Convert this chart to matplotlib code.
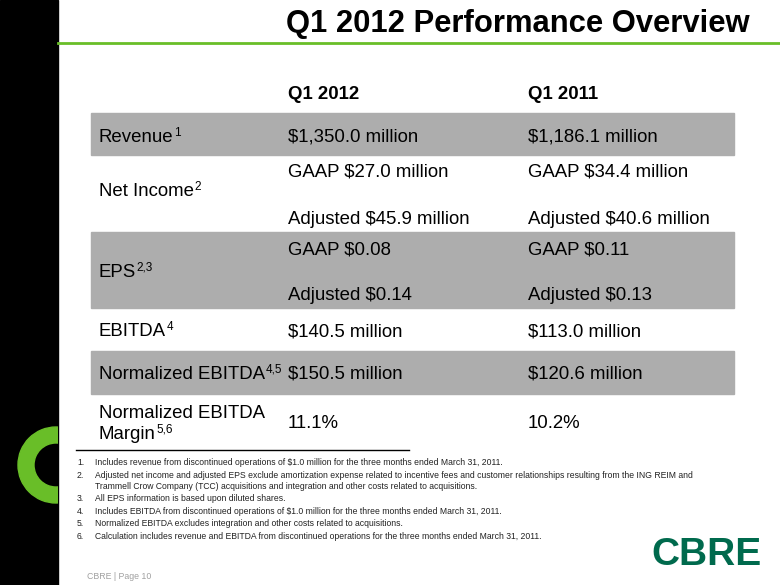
import matplotlib
matplotlib.use("Agg")
import matplotlib.pyplot as plt
from matplotlib.patches import Rectangle, Wedge

plt.rcParams["font.family"] = ["Liberation Sans", "DejaVu Sans"]
plt.rcParams["text.parse_math"] = False

title = "Q1 2012 Performance Overview"
headers = ["Q1 2012", "Q1 2011"]
# each label: list of (text, superscript) lines
row_labels = [
    [("Revenue", "1")],
    [("Net Income", "2")],
    [("EPS", "2,3")],
    [("EBITDA", "4")],
    [("Normalized EBITDA", "4,5")],
    [("Normalized EBITDA", ""), ("Margin", "5,6")],
]
q1_2012 = [
    ["$1,350.0 million"],
    ["GAAP $27.0 million", "Adjusted $45.9 million"],
    ["GAAP $0.08", "Adjusted $0.14"],
    ["$140.5 million"],
    ["$150.5 million"],
    ["11.1%"],
]
q1_2011 = [
    ["$1,186.1 million"],
    ["GAAP $34.4 million", "Adjusted $40.6 million"],
    ["GAAP $0.11", "Adjusted $0.13"],
    ["$113.0 million"],
    ["$120.6 million"],
    ["10.2%"],
]
shaded = [True, False, True, False, True, False]
footnotes = [
    ["Includes revenue from discontinued operations of $1.0 million for the three months ended March 31, 2011."],
    ["Adjusted net income and adjusted EPS exclude amortization expense related to incentive fees and customer relationships resulting from the ING REIM and",
     "Trammell Crow Company (TCC) acquisitions and integration and other costs related to acquisitions."],
    ["All EPS information is based upon diluted shares."],
    ["Includes EBITDA from discontinued operations of $1.0 million for the three months ended March 31, 2011."],
    ["Normalized EBITDA excludes integration and other costs related to acquisitions."],
    ["Calculation includes revenue and EBITDA from discontinued operations for the three months ended March 31, 2011."],
]

GREEN = "#69be28"
GRAY = "#adadad"

# layout in pixels (y down)
row_top = [113, 155, 232, 308, 351, 394]
row_bot = [155, 232, 308, 351, 394, 449]
label_y = [[142], [196], [277], [336], [379], [418, 439]]
val_y = [[142], [177, 224], [254, 300], [336], [379], [428]]
foot_y = [[465], [478, 489], [501], [514], [526], [539]]

fig = plt.figure(figsize=(7.8, 5.85), dpi=100)
ax = fig.add_axes([0, 0, 1, 1])
ax.set_xlim(0, 780)
ax.set_ylim(585, 0)
ax.axis("off")
renderer = fig.canvas.get_renderer()

# left black bar and green ring
ax.add_patch(Rectangle((0, 0), 58, 585, color="black", zorder=1))
ring = Wedge((56, 465), 38, 0, 360, width=16, color=GREEN, zorder=2)
ax.add_patch(ring)
ring.set_clip_path(Rectangle((0, 0), 58, 585, transform=ax.transData))
ax.plot([58, 780], [43, 43], color=GREEN, lw=2, zorder=2)

ax.text(750, 24, title, ha="right", va="center", fontsize=22.3,
        fontweight="bold", color="black")

# header
for x, h in zip([288, 528], headers):
    ax.text(x, 99, h, ha="left", va="baseline", fontsize=13.4,
            fontweight="bold")

# rows
for i, lines in enumerate(row_labels):
    if shaded[i]:
        ax.add_patch(Rectangle((91, row_top[i]), 643, row_bot[i] - row_top[i],
                               color=GRAY, zorder=1))
    for (lab, sup), y in zip(lines, label_y[i]):
        t = ax.text(99, y, lab, ha="left", va="baseline", fontsize=13.4,
                    zorder=3)
        if sup:
            w = t.get_window_extent(renderer).width
            ax.text(99 + w + 0.5, y - 6, sup, ha="left", va="baseline",
                    fontsize=8.5, zorder=3)
    for x, vals in zip([288, 528], [q1_2012[i], q1_2011[i]]):
        for v, y in zip(vals, val_y[i]):
            ax.text(x, y, v, ha="left", va="baseline", fontsize=13.4,
                    zorder=3)

ax.plot([76, 409], [450, 450], color="black", lw=1)

for n, (note, ys) in enumerate(zip(footnotes, foot_y), start=1):
    ax.text(77, ys[0], f"{n}.", ha="left", va="baseline", fontsize=6.2,
            color="#222222")
    for line, y in zip(note, ys):
        ax.text(95, y, line, ha="left", va="baseline", fontsize=6.2,
                color="#222222")

ax.text(87, 579, "CBRE | Page 10", ha="left", va="baseline", fontsize=6.3,
        color="#a0a0a0")
ax.text(651, 565, "CBRE", ha="left", va="baseline", fontsize=28,
        fontweight="bold", color="#006a4d")

fig.savefig("out.png", dpi=100)
